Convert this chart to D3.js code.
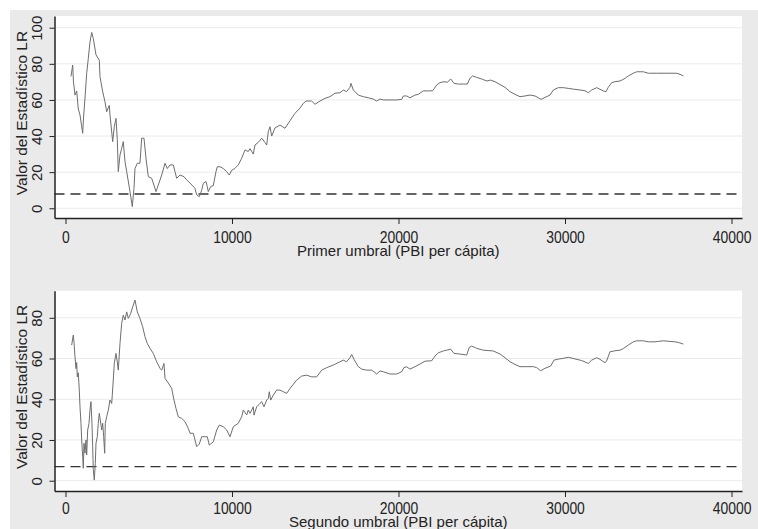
<!DOCTYPE html>
<html><head><meta charset="utf-8">
<script src="https://cdn.jsdelivr.net/npm/d3@7"></script>
<style>body{margin:0;background:#fff}svg{display:block}text{font-family:"Liberation Sans",Arial,sans-serif;fill:#222}</style>
</head><body><svg id="c" width="758" height="529"></svg>
<script>
// ---- data ----
const xTicks = [0, 10000, 20000, 30000, 40000];
const yTicksTop = [0, 20, 40, 60, 80, 100];
const yTicksBottom = [0, 20, 40, 60, 80];
const critTop = 7.9;
const critBottom = 6.9;
const xTitleTop = "Primer umbral (PBI per cápita)";
const xTitleBottom = "Segundo umbral (PBI per cápita)";
const yTitle = "Valor del Estadístico LR";

const umbral1 = [330,432,480,570,673,769,871,961,1033,1081,1171,1273,1369,1471,1574,1670,1832,2030,2072,2234,2372,2474,2631,2673,2835,2931,3033,3111,3171,3273,3375,3471,3574,3676,3874,4012,4114,4174,4312,4474,4576,4715,4835,4973,5177,5435,5574,5778,5976,6114,6276,6474,6576,6678,6877,7117,7279,7477,7778,7880,8036,8180,8276,8438,8516,8576,8721,8877,9039,9117,9279,9477,9682,9838,9982,10180,10378,10583,10781,10979,11081,11279,11381,11579,11783,11982,12084,12180,12282,12384,12582,12883,13183,13484,13784,14084,14282,14444,14786,14985,15285,15585,15885,16186,16486,16684,16882,17087,17147,17285,17585,17886,18186,18486,18690,18889,19087,19489,19892,20192,20288,20492,20690,20991,21189,21490,21789,22053,22294,22493,22733,22931,23135,23333,23592,23892,24133,24294,24456,24696,24997,25297,25537,25796,26096,26396,26697,26997,27297,27597,27898,28198,28396,28558,28798,29099,29297,29597,29898,30198,30498,30901,31201,31399,31603,31904,32102,32300,32462,32600,32804,33002,33302,33543,33801,34102,34306,34703,35003,35508,36108,36709,36907,37105];
const lr1 = [73,79.3,70,62.7,65,55,51.7,46,41.5,50,61,74.7,83,92,97.4,94,85,82,72.9,64.6,59,53.5,57,51.7,36.9,45.2,49.8,38,20.3,29.5,33.2,36.9,25.8,20.3,9.2,0.9,11,22,24.9,24.9,38.8,38.8,27.7,17.5,16.6,9.2,12.9,18.4,24.9,22,24,24,20.3,16.6,18.4,17.5,15.7,14,11,7.4,6.4,10,13.8,14.8,12,9.2,12,12.5,20.3,23,23,22,20.3,18.4,21,22.1,24,27.7,32.3,31.4,33,30,35,36.5,38.8,36.5,35,42.4,45.2,40,44.5,46.1,44.3,48.5,52.6,55.5,58.1,59.4,59.4,57.6,59.4,60.9,61.8,63.7,64,65.5,64.6,67,69.2,65.5,62.7,61.8,61.2,60.5,59.4,60.5,60,60,60,60.3,62.2,62.2,61.2,62.7,63.1,65,65,65.1,68.3,69.6,70.1,69.8,71.6,69.2,68.8,68.8,68.8,72,73.3,72.5,71.6,70.5,71,70.1,68.5,67,64.6,63.1,61.8,62.2,62.7,62.2,61.2,60.3,61.4,62.7,65.5,66.8,66.8,66.4,66,65.5,65.1,64,65.5,66.8,65.9,65,64.6,67,69.6,70.1,70.5,71.6,73.3,74.8,75.6,75.6,74.8,74.8,74.8,74.8,74.2,73.3];

const umbral2 = [372,468,511,571,631,673,709,769,829,871,931,973,1033,1069,1111,1171,1231,1273,1333,1411,1471,1531,1591,1633,1670,1730,1790,1832,1910,1970,2030,2090,2174,2234,2294,2354,2390,2474,2571,2673,2775,2871,2931,3033,3111,3171,3273,3375,3471,3574,3676,3772,3916,4036,4174,4312,4474,4636,4775,4913,5075,5273,5477,5676,5778,5916,5976,6174,6378,6516,6636,6774,6978,7177,7375,7477,7676,7880,8036,8180,8377,8516,8636,8877,9081,9237,9477,9682,9880,10078,10378,10480,10583,10679,10883,10979,11081,11279,11321,11483,11682,11783,11921,12084,12180,12240,12324,12480,12679,12883,13081,13286,13484,13886,14186,14486,14786,15087,15387,15687,16084,16486,16684,16882,17087,17189,17327,17585,17789,18090,18390,18528,18690,18889,19087,19489,19892,20192,20330,20492,20690,20991,21291,21592,21994,22192,22390,22691,22895,23135,23333,23694,24096,24252,24396,24696,25093,25694,26096,26396,26697,26997,27297,27698,28099,28303,28543,28798,29141,29339,29597,29898,30198,30600,31003,31399,31603,31904,32102,32402,32504,32702,33002,33302,33500,33801,34102,34306,34703,35003,35405,35603,35903,36306,36606,36804,37105];
const lr2 = [66.6,71.5,68,60.9,55,58,51,53,44.5,36.3,28.2,20,11.8,6.1,18.4,13.5,20,12.6,24.9,28,34.7,38.8,28,16.7,5.3,0.3,8.5,18.4,21.6,28.2,33.1,29.8,24.9,28.2,21.6,13.5,28.2,31.4,34.7,39.6,37.9,49.4,57.6,62.5,58.4,54.3,67.4,77.3,81.3,78.9,82.9,79.7,82.1,85.4,88.7,82.9,79.7,75.6,70.7,67.4,65,62.5,58.4,55.2,54.3,57.6,50.3,48,45.3,39.6,35.5,31.4,30.6,29,25.7,23.3,23.3,16.7,18,21.6,21.6,21.6,17.5,19.1,24.9,27.3,26.5,24.9,21.6,26.5,28.2,29.8,31.4,34.7,32.3,34.7,33.1,36.3,32.2,36.3,38,38.8,36.3,39.6,40.4,43.7,39.6,42,44.5,44.5,43.7,42.9,45.3,49.4,51.4,51.8,51,51,54.3,55.5,56.8,58.4,59.2,58.4,60.4,62,59.6,56,54.8,54.3,54.3,53.5,52.4,53.9,53.5,52.4,52.4,53.5,55.6,55.9,54.8,56,57.3,58.7,58.9,61.2,62.8,63.7,64.1,64.6,62.5,62.2,61.7,65.5,66.1,65,64.1,63.7,62.2,60.4,58.4,57.1,56,56,56,55.5,54,55.2,56.3,59.2,59.7,60.1,60.6,59.8,59,57.6,59.2,60.4,59.6,57.9,58.9,63.3,63.8,64.1,64.9,66.6,68.2,68.7,68.7,68.2,68.2,68.4,68.7,68.4,68.2,67.9,67.1];

// ---- drawing ----
const svg = d3.select("#c");
svg.append("rect").attr("x",10).attr("y",10).attr("width",748).attr("height",519).attr("fill","#eaeaea");

const left = 54.5, right = 742;
const x = d3.scaleLinear().domain([-660, 40630]).range([left, right]);

function panel(cfg){
  const y = d3.scaleLinear().domain(cfg.ydom).range([cfg.bottom, cfg.top]);
  const g = svg.append("g");
  g.append("rect").attr("x",left).attr("y",cfg.top).attr("width",right-left).attr("height",cfg.bottom-cfg.top).attr("fill","#fff");
  g.selectAll("line.grid").data(cfg.yticks).join("line").attr("class","grid")
    .attr("x1",left).attr("x2",right).attr("y1",d=>y(d)).attr("y2",d=>y(d))
    .attr("stroke","#eaeaea").attr("stroke-width",1);
  g.append("line").attr("x1",left).attr("x2",right).attr("y1",y(cfg.crit)).attr("y2",y(cfg.crit))
    .attr("stroke","#333").attr("stroke-width",1.3).attr("stroke-dasharray","10,6");
  const pts = cfg.xs.map((v,i)=>[v,cfg.ys[i]]);
  g.append("path").datum(pts).attr("fill","none").attr("stroke","#6e6e6e").attr("stroke-width",1)
    .attr("d", d3.line().x(d=>x(d[0])).y(d=>y(d[1])));
  const ax = g.append("g").attr("transform",`translate(0,${cfg.bottom})`)
    .call(d3.axisBottom(x).tickValues(xTicks).tickFormat(d3.format("d")).tickSize(6).tickSizeOuter(0));
  ax.attr("font-family",null);
  ax.select(".domain").attr("stroke","#222").attr("stroke-width",1.5);
  ax.selectAll(".tick line").attr("stroke","#222");
  ax.selectAll(".tick text").attr("y",cfg.tickBase).attr("dy",0).attr("font-size",17)
    .attr("transform","scale(0.82,1)").attr("fill","#222");
  const ay = g.append("g").attr("transform",`translate(${left},0)`)
    .call(d3.axisLeft(y).tickValues(cfg.yticks).tickSize(5).tickSizeOuter(0));
  ay.attr("font-family",null);
  ay.select(".domain").attr("stroke","#222").attr("stroke-width",1.5);
  ay.selectAll(".tick line").attr("stroke","#222");
  ay.selectAll(".tick text").attr("transform","rotate(-90)").attr("text-anchor","middle")
    .attr("x",0).attr("y",-cfg.yLabOff).attr("dy",0).attr("font-size",15).attr("fill","#222");
  svg.append("text").attr("x",(left+right)/2).attr("y",cfg.bottom+cfg.titleBase).attr("text-anchor","middle")
    .attr("font-size",15).text(cfg.xtitle);
  svg.append("text").attr("transform",`translate(27,${(cfg.top+cfg.bottom)/2-4}) rotate(-90)`)
    .attr("text-anchor","middle").attr("font-size",15.5).text(yTitle);
}

panel({top:16, bottom:218, ydom:[-5.4,106.5], yticks:yTicksTop, crit:critTop, xs:umbral1, ys:lr1,
  tickBase:25, titleBase:38, yLabOff:12.5, xtitle:xTitleTop});
panel({top:290.7, bottom:491, ydom:[-5.05,93.3], yticks:yTicksBottom, crit:critBottom, xs:umbral2, ys:lr2,
  tickBase:23, titleBase:36, yLabOff:12.5, xtitle:xTitleBottom});
</script></body></html>
